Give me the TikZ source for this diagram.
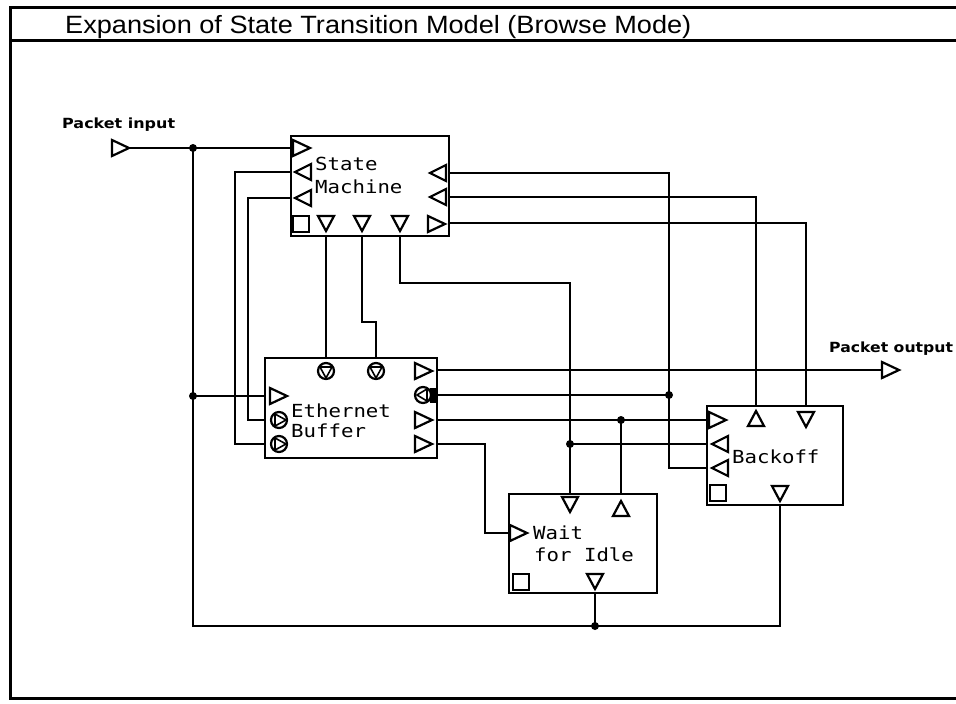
\documentclass[tikz,border=0pt]{standalone}
\usepackage{fontspec}
\newfontfamily\titlefont{Liberation Sans}
\newfontfamily\boxfont{DejaVu Sans Mono}
\newfontfamily\lblfont{DejaVu Sans}
\newcommand\portR[2]{\draw[port] (#1,#2-8) -- (#1+17,#2) -- (#1,#2+8) -- cycle;}
\newcommand\portL[2]{\draw[port] (#1,#2) -- (#1+16,#2-8) -- (#1+16,#2+8) -- cycle;}
\newcommand\portD[2]{\draw[port] (#1-8,#2) -- (#1+8,#2) -- (#1,#2+15) -- cycle;}
\newcommand\portU[2]{\draw[port] (#1-8,#2) -- (#1+8,#2) -- (#1,#2-15) -- cycle;}
\newcommand\portS[2]{\draw[port] (#1,#2) rectangle ++(16,16);}
\newcommand\portCD[2]{\draw[port] (#1,#2) circle[radius=8pt]; \draw[line width=1.6pt,line join=miter] (#1-6,#2-4) -- (#1+6,#2-4) -- (#1,#2+7) -- cycle;}
\newcommand\portCR[2]{\draw[port] (#1,#2) circle[radius=8pt]; \draw[line width=1.6pt,line join=miter] (#1-4,#2-6) -- (#1+7,#2) -- (#1-4,#2+6) -- cycle;}
\begin{document}
\begin{tikzpicture}[x=1pt,y=-1pt,
  wire/.style={line width=2pt},
  blk/.style={draw,line width=2.4pt,inner sep=0pt,outer sep=0pt,anchor=north west},
  port/.style={line width=2.2pt,line join=miter},
  dot/.style={circle,fill,inner sep=0pt,minimum size=8pt},
  frame/.style={line width=3pt},
  boxtxt/.style={anchor=base west,inner sep=0pt,font=\boxfont\fontsize{18}{20}\selectfont},
  lbl/.style={anchor=base west,inner sep=0pt,font=\lblfont\bfseries\fontsize{14}{16}\selectfont}]
\useasboundingbox (0,0) rectangle (956,704);
% frame
\draw[frame] (956,7) -- (10,7) -- (10,698) -- (956,698);
\draw[frame] (10,40) -- (956,40);
\node[anchor=base west,inner sep=0pt,font=\titlefont\fontsize{25}{30}\selectfont] (title) at (65,33) {\scalebox{1.085}[1]{Expansion of State Transition Model (Browse Mode)}};
% blocks
\node[blk,minimum width=158pt,minimum height=100pt] (sm) at (291,136) {};
\node[blk,minimum width=172pt,minimum height=100pt] (eb) at (265,358) {};
\node[blk,minimum width=148pt,minimum height=99pt] (wi) at (509,494) {};
\node[blk,minimum width=136pt,minimum height=99pt] (bo) at (707,406) {};
% texts
\node[boxtxt] (t1) at (315,170) {\scalebox{1.15}[1]{State}};
\node[boxtxt] (t2) at (315,193) {\scalebox{1.15}[1]{Machine}};
\node[boxtxt] (t3) at (291,417) {\scalebox{1.15}[1]{Ethernet}};
\node[boxtxt] (t4) at (291,437) {\scalebox{1.15}[1]{Buffer}};
\node[boxtxt] (t5) at (533,539) {\scalebox{1.15}[1]{Wait}};
\node[boxtxt] (t6) at (534,561) {\scalebox{1.15}[1]{for Idle}};
\node[boxtxt] (t7) at (732,463) {\scalebox{1.15}[1]{Backoff}};
\node[lbl] (lin) at (62,128) {\scalebox{1.14}[1]{Packet input}};
\node[lbl] (lout) at (829,352) {\scalebox{1.12}[1]{Packet output}};
% ports: State Machine
\portR{293}{148}
\portL{295}{172}
\portL{295}{198}
\portS{293}{216}
\portD{326}{216}
\portD{362}{216}
\portD{400}{216}
\portR{428}{224}
\portL{430}{173}
\portL{430}{197}
% ports: Ethernet Buffer
\portCD{326}{371}
\portCD{376}{371}
\portR{270}{396}
\portCR{279}{420}
\portCR{279}{444}
\portR{415}{371}
\draw[port] (423,395) circle[radius=8pt];
\draw[line width=1.6pt,line join=miter] (427,389) -- (417,395) -- (427,401) -- cycle;
\fill (430,388) rectangle (437,403);
\portR{415}{420}
\portR{415}{444}
% ports: Wait for Idle
\portR{510}{533}
\portD{570}{497}
\portU{621}{516}
\portS{513}{574}
\portD{595}{574}
% ports: Backoff
\portR{709}{420}
\portL{712}{444}
\portL{712}{468}
\portU{756}{426}
\portD{806}{412}
\portS{710}{485}
\portD{780}{486}
% external ports
\portR{112}{148}
\portR{882}{370}
% connection coordinates
\coordinate (pi) at (129,148);
\coordinate (po) at (882,370);
\coordinate (sm-l1) at (291,148);
\coordinate (sm-l2) at (291,172);
\coordinate (sm-l3) at (291,198);
\coordinate (sm-b1) at (326,236);
\coordinate (sm-b2) at (362,236);
\coordinate (sm-b3) at (400,236);
\coordinate (sm-r1) at (449,173);
\coordinate (sm-r2) at (449,197);
\coordinate (sm-r3) at (449,223);
\coordinate (eb-t1) at (326,358);
\coordinate (eb-t2) at (376,358);
\coordinate (eb-l1) at (265,396);
\coordinate (eb-l2) at (265,420);
\coordinate (eb-l3) at (265,444);
\coordinate (eb-r1) at (437,370);
\coordinate (eb-r2) at (437,395);
\coordinate (eb-r3) at (437,420);
\coordinate (eb-r4) at (437,444);
\coordinate (wi-t1) at (570,494);
\coordinate (wi-t2) at (621,494);
\coordinate (wi-l1) at (509,533);
\coordinate (wi-b1) at (595,593);
\coordinate (bo-t1) at (756,406);
\coordinate (bo-t2) at (806,406);
\coordinate (bo-l1) at (707,420);
\coordinate (bo-l2) at (707,444);
\coordinate (bo-l3) at (707,468);
\coordinate (bo-b1) at (780,505);
\coordinate (j1) at (193,148);
\coordinate (j2) at (193,396);
\coordinate (j3) at (570,444);
\coordinate (j4) at (669,395);
\coordinate (j5) at (621,420);
\coordinate (j6) at (595,626);
% wires
\draw[wire] (pi) -- (sm-l1);
\draw[wire] (j1) -- (j1 |- j6) -- (j6) -| (bo-b1);
\draw[wire] (j2) -- (eb-l1);
\draw[wire] (sm-l2) -- ++(-56,0) |- (eb-l3);
\draw[wire] (sm-l3) -- ++(-43,0) |- (eb-l2);
\draw[wire] (sm-b1) -- (eb-t1);
\draw[wire] (sm-b2) -- ++(0,86) -| (eb-t2);
\draw[wire] (sm-b3) -- ++(0,47) -| (wi-t1);
\draw[wire] (sm-r1) -| (j4) |- (bo-l3);
\draw[wire] (sm-r2) -| (bo-t1);
\draw[wire] (sm-r3) -| (bo-t2);
\draw[wire] (eb-r1) -- (po);
\draw[wire] (eb-r2) -- (j4);
\draw[wire] (eb-r3) -- (bo-l1);
\draw[wire] (j5) -- (wi-t2);
\draw[wire] (eb-r4) -- ++(48,0) |- (wi-l1);
\draw[wire] (j3) -- (bo-l2);
\draw[wire] (wi-b1) -- (j6);
% junction dots
\node[dot] (d1) at (j1) {};
\node[dot] (d2) at (j2) {};
\node[dot] (d3) at (j3) {};
\node[dot] (d4) at (j4) {};
\node[dot] (d5) at (j5) {};
\node[dot] (d6) at (j6) {};
\end{tikzpicture}
\end{document}
